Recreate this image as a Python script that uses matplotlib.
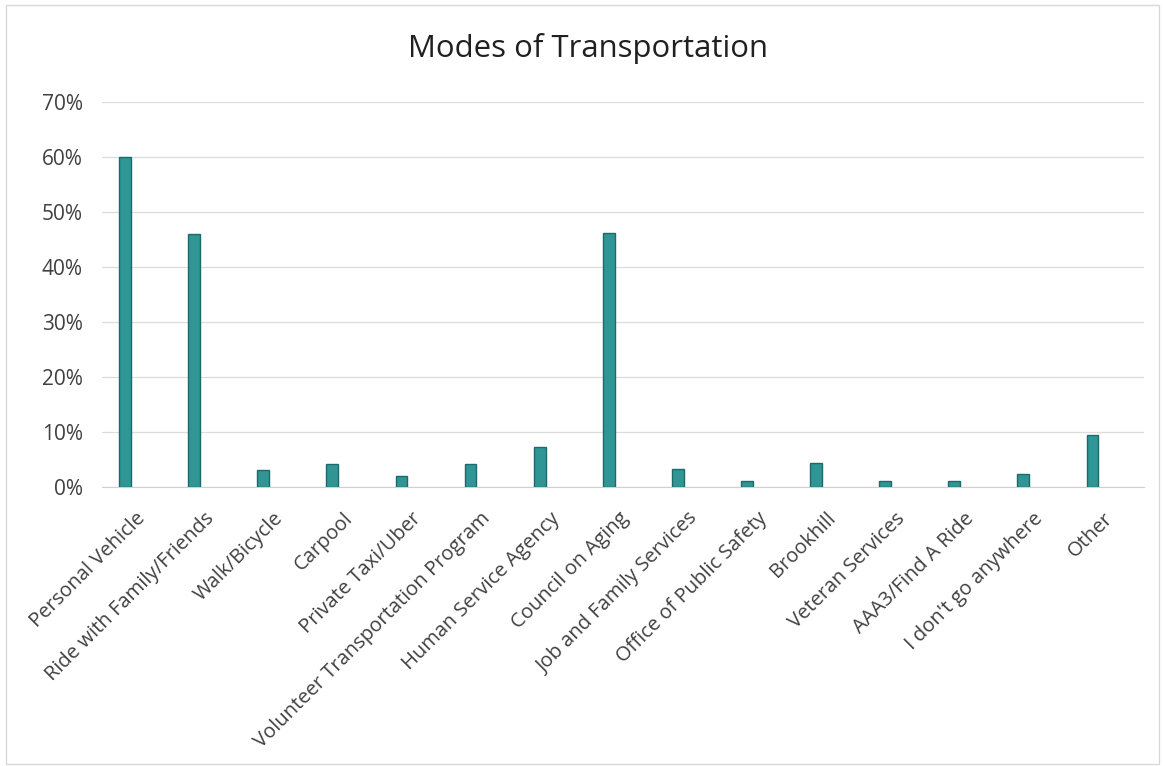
import matplotlib
matplotlib.use("Agg")
import matplotlib.pyplot as plt
from matplotlib.ticker import PercentFormatter
from matplotlib.patches import Rectangle
from matplotlib.transforms import ScaledTranslation

categories = ["Personal Vehicle", "Ride with Family/Friends", "Walk/Bicycle", "Carpool",
              "Private Taxi/Uber", "Volunteer Transportation Program", "Human Service Agency",
              "Council on Aging", "Job and Family Services", "Office of Public Safety",
              "Brookhill", "Veteran Services", "AAA3/Find A Ride", "I don't go anywhere", "Other"]
values = [60.0, 46.0, 3.1, 4.2, 2.0, 4.2, 7.3, 46.2, 3.3, 1.1, 4.4, 1.2, 1.2, 2.4, 9.4]
yticks = [0, 10, 20, 30, 40, 50, 60, 70]

plt.rcParams['font.family'] = ['Open Sans', 'DejaVu Sans']
fig = plt.figure(figsize=(11.65, 7.66), dpi=100)
ax = fig.add_axes([0.0876, 0.364, 0.894, 0.503])

x = list(range(len(categories)))
ax.bar(x, values, width=0.17, color="#2f9595", edgecolor="#1c6b6b", linewidth=1.0, zorder=3)
ax.set_xlim(-0.333, len(categories) - 1 + 0.74)
ax.set_ylim(0, 70)
ax.set_yticks(yticks)
ax.yaxis.set_major_formatter(PercentFormatter(decimals=0))
ax.set_xticks(x)
ax.set_xticklabels([])
trans = ax.get_xaxis_transform() + ScaledTranslation(0.10, -0.213, fig.dpi_scale_trans)
for xi, cat in zip(x, categories):
    ax.text(xi, 0, cat, transform=trans, rotation=45, ha="right", va="top",
            rotation_mode="anchor", fontsize=14.5, color="#404040")
ax.tick_params(axis="y", labelsize=15, labelcolor="#404040", length=0, pad=14)
ax.tick_params(axis="x", length=0)
ax.grid(axis="y", color="#dcdcdc", linewidth=0.9, zorder=0)
for s in ["top", "right", "left"]:
    ax.spines[s].set_visible(False)
ax.spines["bottom"].set_color("#d0d0d0")

fig.text(0.505, 0.937, "Modes of Transportation", ha="center", va="center",
         fontsize=22.4, color="#202020")
fig.patches.append(Rectangle((0.005, 0.003), 0.99, 0.99, transform=fig.transFigure,
                             fill=False, edgecolor="#d8d8d8", linewidth=1))
fig.savefig("out.png", dpi=100)
